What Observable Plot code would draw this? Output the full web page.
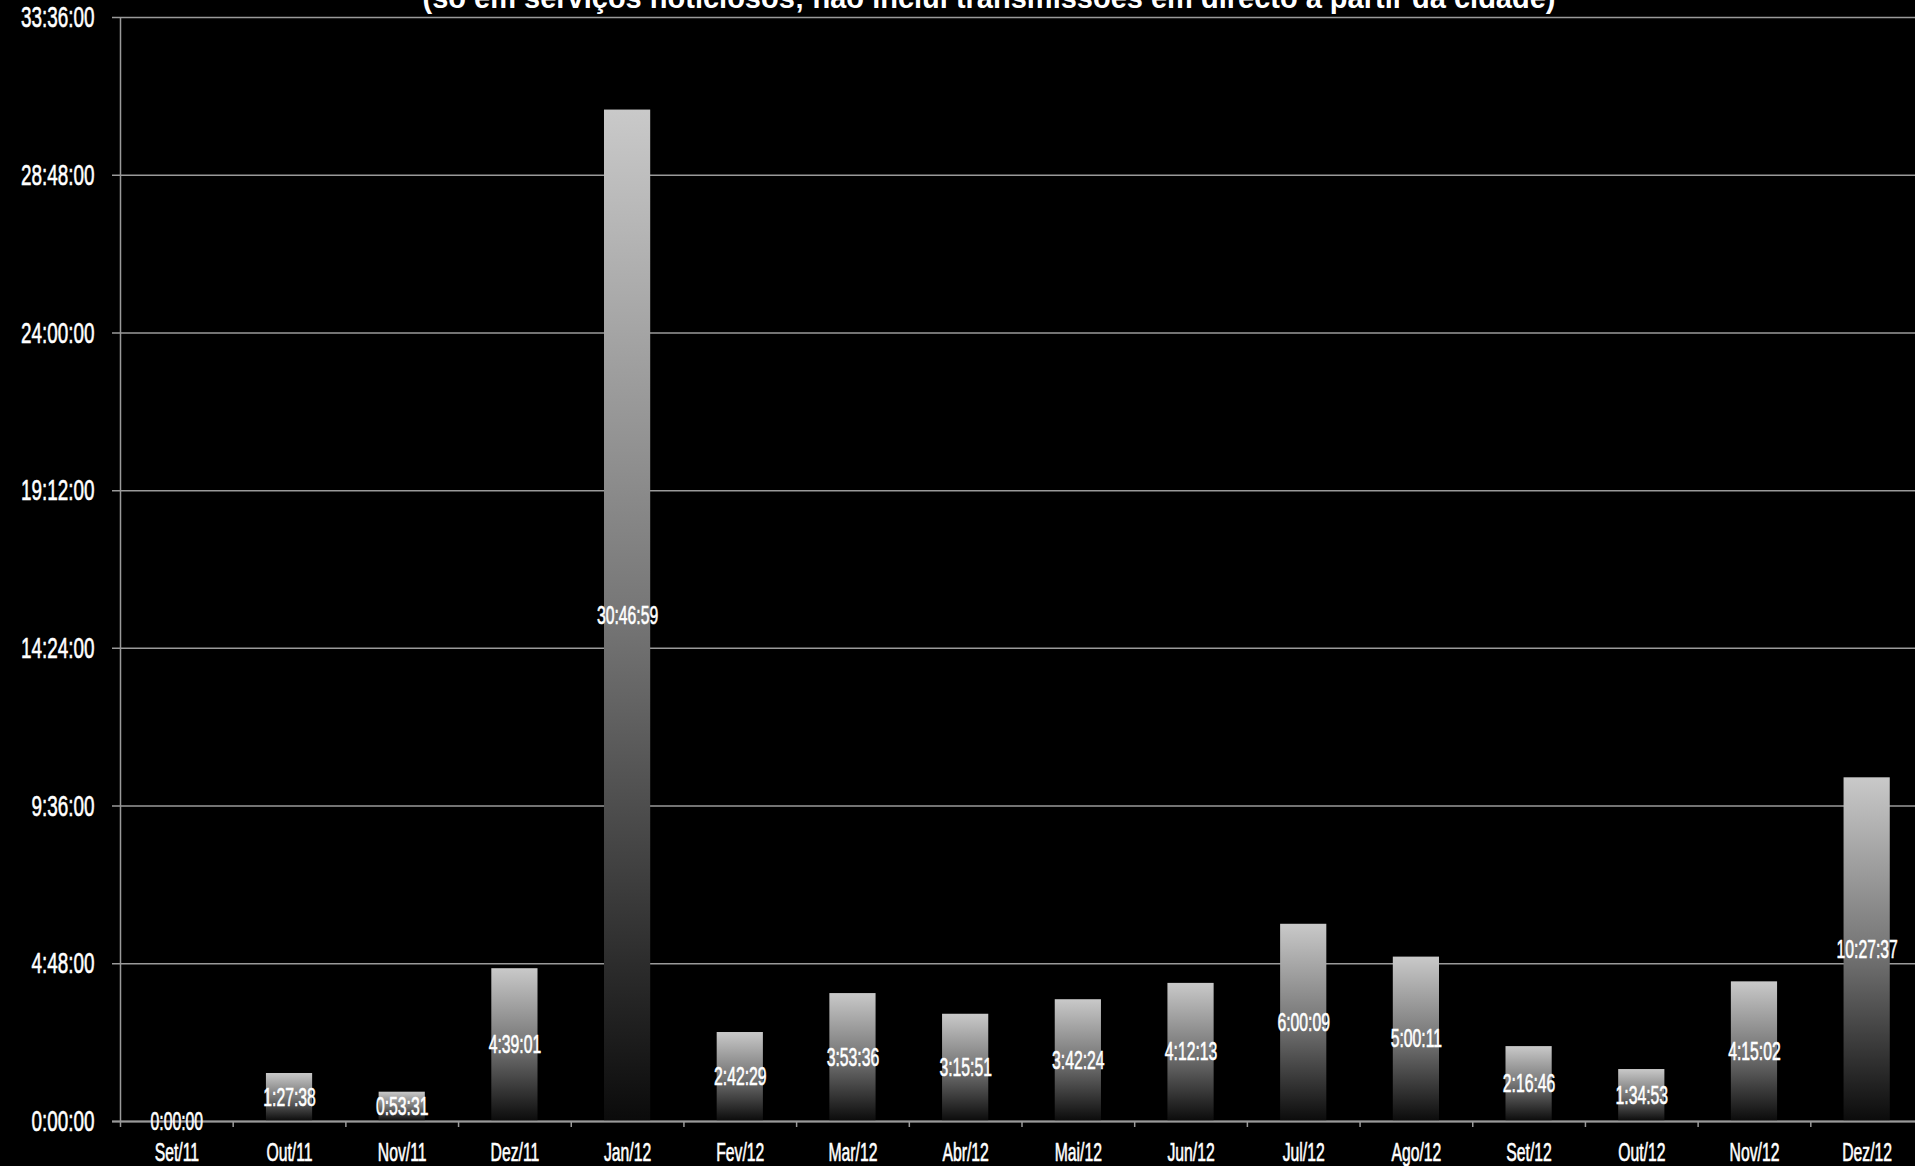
<!DOCTYPE html>
<html><head><meta charset="utf-8">
<script src="https://cdn.jsdelivr.net/npm/d3@7"></script>
<script src="https://cdn.jsdelivr.net/npm/@observablehq/plot@0.6"></script>
<style>
html,body{margin:0;padding:0;background:#000;overflow:hidden;width:1915px;height:1166px;}
#wrap{position:relative;width:1915px;height:1166px;overflow:hidden;background:#000;}
#sub{position:absolute;top:-16.5px;left:989px;transform:translateX(-50%);white-space:nowrap;color:#fff;font:bold 29px "Liberation Sans",Arial,sans-serif;line-height:29px;z-index:2}
#chart{position:absolute;top:0;left:0;width:1923px}
#chart svg{max-width:none !important;width:1923px !important;height:1166px !important}
#chart svg text{stroke:#fff;stroke-width:0.6px;paint-order:stroke}
</style></head><body>
<div id="wrap"><div id="chart"></div><div id="sub">(só em serviços noticiosos; não inclui transmissões em directo a partir da cidade)</div></div>
<script>
const months = ["Set/11","Out/11","Nov/11","Dez/11","Jan/12","Fev/12","Mar/12","Abr/12","Mai/12","Jun/12","Jul/12","Ago/12","Set/12","Out/12","Nov/12","Dez/12"];
const durations = ["0:00:00","1:27:38","0:53:31","4:39:01","30:46:59","2:42:29","3:53:36","3:15:51","3:42:24","4:12:13","6:00:09","5:00:11","2:16:46","1:34:53","4:15:02","10:27:37"];
const yTickLabels = ["0:00:00","4:48:00","9:36:00","14:24:00","19:12:00","24:00:00","28:48:00","33:36:00"];

const toSec = s => { const [h, m, ss] = s.split(":").map(Number); return h * 3600 + m * 60 + ss; };
const data = months.map((m, i) => ({month: m, label: durations[i], sec: toSec(durations[i])}));
const yTicks = yTickLabels.map(toSec);
const yMax = yTicks[yTicks.length - 1];

const W = 1923, H = 1166, ML = 120, MR = 0, MT = 17, MB = 45;
const step = (W - ML - MR) / months.length;
const grid = "#9a9a9a";

const plot = Plot.plot({
  width: W, height: H,
  marginLeft: ML, marginRight: MR, marginTop: MT, marginBottom: MB,
  style: {background: "#000", color: "#fff", maxWidth: "none", fontFamily: '"Liberation Sans", Arial, sans-serif'},
  x: {domain: months, paddingInner: 0.59, paddingOuter: 0.295, round: false, label: null},
  y: {domain: [0, yMax], label: null},
  marks: [
    () => {
      const defs = d3.create("svg:defs");
      const g = defs.append("linearGradient").attr("id", "barGrad")
        .attr("x1", 0).attr("y1", 0).attr("x2", 0).attr("y2", 1);
      g.append("stop").attr("offset", "0").attr("stop-color", "#c9c9c9");
      g.append("stop").attr("offset", "0.5").attr("stop-color", "#767676");
      g.append("stop").attr("offset", "1").attr("stop-color", "#0b0b0b");
      return defs.node();
    },
    Plot.gridY(yTicks, {stroke: grid, strokeOpacity: 1, strokeWidth: 1.5, insetLeft: -8}),
    Plot.ruleX([months[0]], {x: d => d, y1: 0, y2: yMax, dx: -step / 2, stroke: grid, strokeWidth: 1.5}),
    Plot.ruleX(months, {x: d => d, y1: 0, y2: 0, insetBottom: -6, dx: -step / 2, stroke: grid, strokeWidth: 1.5}),
    Plot.barY(data, {x: "month", y: "sec", fill: "url(#barGrad)"}),
    Plot.ruleY([0], {stroke: grid, strokeWidth: 2, insetLeft: -8}),
    Plot.text(data, {x: "month", y: d => d.sec / 2, text: "label", fill: "#fff", fontSize: 25}),
    Plot.axisY({ticks: yTicks, tickFormat: d => yTickLabels[yTicks.indexOf(d)], tickSize: 0, tickPadding: 26, fontSize: 30, fill: "#fff", label: null}),
    Plot.axisX({tickSize: 0, tickPadding: 22, fontSize: 25, fill: "#fff", label: null})
  ]
});
document.getElementById("chart").appendChild(plot);

// condense glyphs horizontally (about each text's anchor point) to mimic the narrow display face
const squeeze = 0.63;
Array.from(document.querySelectorAll("#chart svg text")).forEach(t => {
  const ax = parseFloat(t.getAttribute("x") || "0") || 0;
  const tr = t.getAttribute("transform") || "";
  t.setAttribute("transform", `${tr} translate(${ax},0) scale(${squeeze},1) translate(${-ax},0)`.trim());
});
</script>
</body></html>
